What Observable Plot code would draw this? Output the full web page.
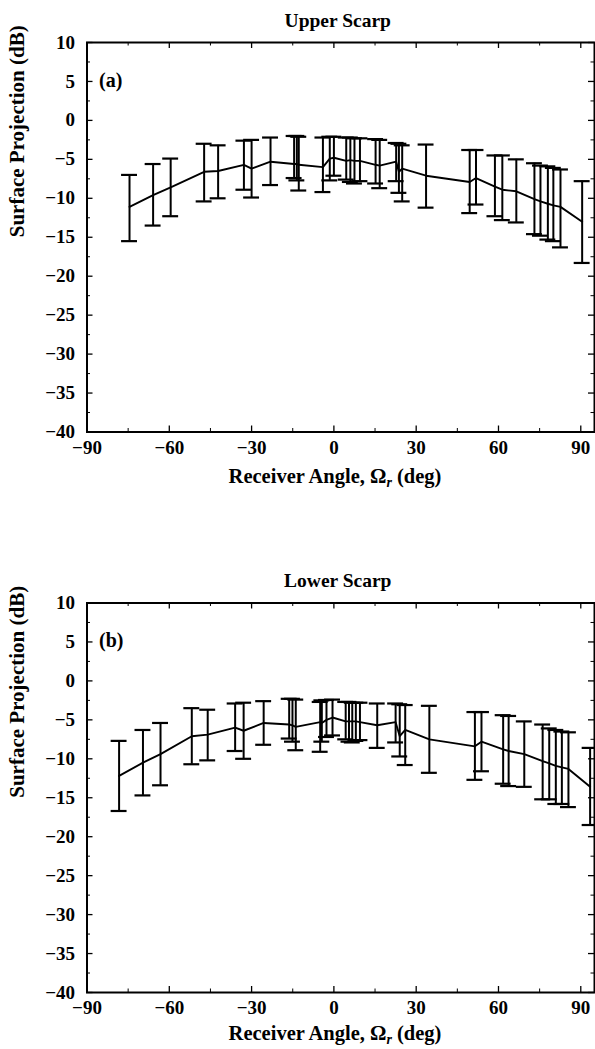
<!DOCTYPE html>
<html><head><meta charset="utf-8">
<script src="https://cdn.jsdelivr.net/npm/d3@7"></script>
<script src="https://cdn.jsdelivr.net/npm/@observablehq/plot@0.6"></script>
<style>
body{margin:0;background:#fff;}
#chart{width:595px;height:1049px;position:relative;overflow:hidden;}
svg{display:block}
</style></head><body><div id="chart"></div>
<script>
// Axis ticks
const xTicks = [-90, -60, -30, 0, 30, 60, 90];
const xMinor = [-75, -45, -15, 15, 45, 75];
const yTicks = [10, 5, 0, -5, -10, -15, -20, -25, -30, -35, -40];
const yMinor = [7.5, 2.5, -2.5, -7.5, -12.5, -17.5, -22.5, -27.5, -32.5, -37.5];

// (a) Upper Scarp
const upperAngle = [-74.5, -65.9, -59.5, -47.3, -42.2, -32.8, -30.0, -23.1, -14.5, -13.5, -12.8, -4.0, -1.5, 0.0, 4.5, 6.0, 7.5, 9.5, 15.2, 16.7, 22.7, 23.7, 24.9, 33.6, 49.5, 51.8, 58.7, 61.4, 66.5, 73.1, 75.3, 78.0, 80.0, 82.6, 90.5];
const upperMean  = [-11.1, -9.6, -8.6, -6.6, -6.5, -5.7, -6.2, -5.3, -5.6, -5.6, -5.7, -6.0, -4.9, -4.8, -5.2, -5.1, -5.2, -5.2, -5.7, -5.8, -5.3, -6.6, -6.2, -7.1, -7.9, -7.4, -8.5, -8.9, -9.1, -10.1, -10.4, -10.7, -10.9, -11.1, -13.0];
const upperHigh  = [-7.0, -5.6, -4.9, -3.0, -3.2, -2.6, -2.5, -2.2, -2.0, -2.0, -2.1, -2.2, -2.1, -2.1, -2.2, -2.2, -2.3, -2.3, -2.4, -2.5, -2.9, -3.0, -3.2, -3.1, -3.8, -3.8, -4.5, -4.5, -5.0, -5.5, -5.8, -5.9, -6.1, -6.3, -7.8];
const upperLow   = [-15.5, -13.5, -12.3, -10.4, -10.0, -8.9, -9.9, -8.3, -7.4, -7.7, -9.0, -9.2, -7.7, -7.1, -7.6, -7.9, -8.1, -7.8, -8.1, -8.7, -7.8, -9.3, -10.4, -11.2, -11.9, -10.8, -12.3, -12.8, -13.1, -14.6, -14.8, -15.3, -15.5, -16.3, -18.3];

// (b) Lower Scarp
const lowerAngle = [-78.3, -69.6, -63.2, -51.8, -46.0, -36.0, -32.9, -25.6, -16.3, -15.1, -13.9, -5.0, -4.4, -2.7, -0.5, 4.3, 5.5, 6.7, 8.0, 9.5, 15.8, 22.5, 24.0, 26.0, 34.8, 51.4, 53.8, 61.7, 63.7, 69.4, 76.1, 78.5, 80.9, 83.1, 85.5, 93.4];
const lowerMean  = [-12.2, -10.5, -9.4, -7.1, -6.9, -6.0, -6.4, -5.4, -5.6, -5.7, -5.9, -5.3, -5.4, -5.0, -4.7, -5.2, -5.2, -5.2, -5.2, -5.3, -5.7, -5.3, -7.1, -6.3, -7.5, -8.4, -7.8, -8.8, -9.0, -9.4, -10.3, -10.6, -10.9, -11.1, -11.3, -13.6];
const lowerHigh  = [-7.7, -6.3, -5.4, -3.5, -3.7, -2.9, -2.8, -2.6, -2.3, -2.3, -2.4, -2.7, -2.5, -2.45, -2.4, -2.7, -2.7, -2.8, -2.8, -2.8, -2.9, -2.9, -3.0, -3.1, -3.2, -4.0, -4.0, -4.4, -4.5, -5.2, -5.6, -6.1, -6.3, -6.5, -6.6, -8.6];
const lowerLow   = [-16.7, -14.7, -13.4, -10.7, -10.2, -9.0, -10.0, -8.2, -7.4, -7.8, -8.9, -9.1, -7.8, -7.2, -7.0, -7.5, -7.8, -7.9, -7.7, -7.6, -8.6, -7.9, -9.7, -10.8, -11.8, -12.7, -11.6, -13.2, -13.5, -13.6, -15.2, -15.2, -15.8, -15.8, -16.2, -18.5];

const FONT = "'Liberation Serif', 'Times New Roman', serif";
const fmt = d => d < 0 ? "\u2212" + Math.abs(d) : String(d);

function panel({title, tag, angle, mean, high, low, mT, mB, titleGap}) {
  const data = angle.map((a, i) => ({x: a, m: mean[i], hi: high[i], lo: low[i]}));
  const frameH = 389.5, frameW = 507.5;
  const capHalf = 2.9;
  const height = mT + frameH + mB;
  const svg = Plot.plot({
    width: 595, height,
    marginLeft: 86.5, marginRight: 1, marginTop: mT, marginBottom: mB,
    style: {fontFamily: FONT, fontWeight: "bold", fontSize: "19px", background: "white", color: "black", overflow: "visible"},
    x: {domain: [-90, 95]},
    y: {domain: [-40, 10]},
    marks: [
      Plot.axisX({ticks: xTicks, tickSize: 0, tickPadding: 8, label: null, fontSize: 19, tickFormat: fmt}),
      Plot.axisY({ticks: yTicks, tickSize: 0, tickPadding: 12, label: null, fontSize: 19, tickFormat: fmt}),
      // inward major/minor ticks on all sides
      Plot.tickX(xTicks, {x: d => d, insetTop: frameH - 6, stroke: "black", strokeWidth: 1.3}),
      Plot.tickX(xTicks, {x: d => d, insetBottom: frameH - 6, stroke: "black", strokeWidth: 1.3}),
      Plot.tickX(xMinor, {x: d => d, insetTop: frameH - 3.5, stroke: "black", strokeWidth: 1}),
      Plot.tickX(xMinor, {x: d => d, insetBottom: frameH - 3.5, stroke: "black", strokeWidth: 1}),
      Plot.tickY(yTicks, {y: d => d, insetRight: frameW - 6, stroke: "black", strokeWidth: 1.3}),
      Plot.tickY(yTicks, {y: d => d, insetLeft: frameW - 6, stroke: "black", strokeWidth: 1.3}),
      Plot.tickY(yMinor, {y: d => d, insetRight: frameW - 3.5, stroke: "black", strokeWidth: 1}),
      Plot.tickY(yMinor, {y: d => d, insetLeft: frameW - 3.5, stroke: "black", strokeWidth: 1}),
      Plot.frame({stroke: "black", strokeWidth: 2}),
      // error bars
      Plot.ruleX(data, {x: "x", y1: "lo", y2: "hi", stroke: "black", strokeWidth: 2}),
      Plot.ruleY(data, {y: "hi", x1: d => d.x - capHalf, x2: d => d.x + capHalf, stroke: "black", strokeWidth: 2.2}),
      Plot.ruleY(data, {y: "lo", x1: d => d.x - capHalf, x2: d => d.x + capHalf, stroke: "black", strokeWidth: 2.2}),
      // mean curve
      Plot.line(data, {x: "x", y: "m", stroke: "black", strokeWidth: 1.9}),
      // labels
      Plot.text([tag], {frameAnchor: "top-left", dx: 12, dy: 38, textAnchor: "start", lineAnchor: "middle", fontSize: 20, fontWeight: "bold"}),
      Plot.text([title], {frameAnchor: "top", dy: -22, dx: -3, lineAnchor: "middle", fontSize: 19.5, fontWeight: "bold"}),
      Plot.text(["Surface Projection (dB)"], {frameAnchor: "left", dx: -70, rotate: -90, lineAnchor: "middle", fontSize: 21, fontWeight: "bold"})
    ]
  });
  // x-axis title with subscript
  const t = d3.select(svg).append("text")
    .attr("x", 335).attr("y", mT + frameH + titleGap)
    .attr("text-anchor", "middle")
    .attr("font-family", FONT).attr("font-weight", "bold").attr("font-size", 20.5).attr("fill", "black");
  t.append("tspan").text("Receiver Angle, \u03A9");
  t.append("tspan").attr("font-style", "italic").attr("font-size", 14).attr("dy", 4).text("r");
  t.append("tspan").attr("dy", -4).text(" (deg)");
  return svg;
}

const chart = document.getElementById("chart");
chart.appendChild(panel({title: "Upper Scarp", tag: "(a)", angle: upperAngle, mean: upperMean, high: upperHigh, low: upperLow, mT: 42, mB: 59.5, titleGap: 51}));
chart.appendChild(panel({title: "Lower Scarp", tag: "(b)", angle: lowerAngle, mean: lowerMean, high: lowerHigh, low: lowerLow, mT: 111.5, mB: 57.5, titleGap: 48}));
</script></body></html>
